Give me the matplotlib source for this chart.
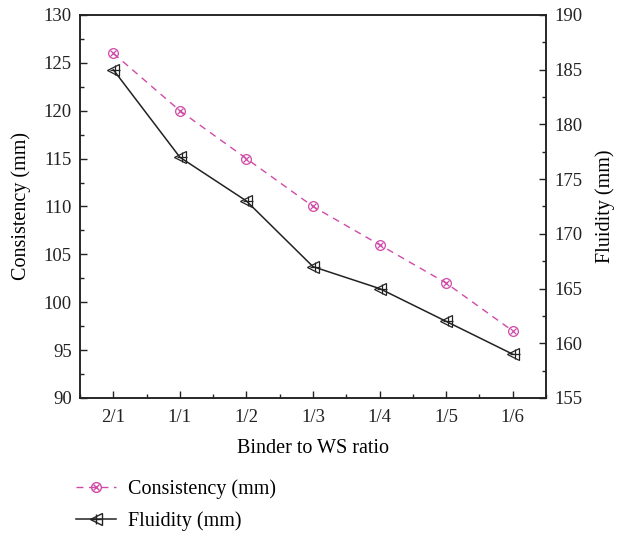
import numpy as np
import matplotlib.pyplot as plt
from matplotlib.ticker import MultipleLocator
from matplotlib.lines import Line2D

# Daten
ratios = ['2/1', '1/1', '1/2', '1/3', '1/4', '1/5', '1/6']
consistency = [126, 120, 115, 110, 106, 102, 97]
fluidity = [185, 177, 173, 167, 165, 162, 159]

plt.rcParams['font.family'] = ['Liberation Serif', 'DejaVu Serif']
plt.rcParams['font.size'] = 13

pink = '#d04aa8'
x = np.arange(len(ratios))

fig = plt.figure(figsize=(6.17, 5.33), dpi=100)
ax = fig.add_axes([0.1297, 0.2533, 0.7553, 0.7186])
ax2 = ax.twinx()

# Consistency (linke Achse)
ax.plot(x, consistency, color=pink, linestyle=(0, (5, 4)), linewidth=1,
        marker='o', markersize=7, markerfacecolor='none', markeredgecolor=pink,
        markeredgewidth=0.9, zorder=3)
ax.plot(x, consistency, linestyle='none', marker='x', markersize=5,
        markeredgecolor=pink, markeredgewidth=0.9, zorder=3)

# Fluidity (rechte Achse)
ax2.plot(x, fluidity, color='#222222', linewidth=1.1,
         marker='<', markersize=8.5, markerfacecolor='none', markeredgecolor='#222222',
         markeredgewidth=0.9)
ax2.plot(np.array(x) + 0.03, fluidity, linestyle='none', marker='+', markersize=7.5,
         markeredgecolor='#222222', markeredgewidth=0.9)

ax.set_xlim(-0.5, 6.5)
ax.set_ylim(90, 130)
ax2.set_ylim(155, 190)
ax.set_xticks(x)
ax.set_xticklabels(ratios)
ax.xaxis.set_minor_locator(MultipleLocator(0.5))
ax.yaxis.set_major_locator(MultipleLocator(5))
ax.yaxis.set_minor_locator(MultipleLocator(2.5))
ax2.yaxis.set_major_locator(MultipleLocator(5))
ax2.yaxis.set_minor_locator(MultipleLocator(2.5))

for a in (ax, ax2):
    a.tick_params(which='major', direction='in', length=5, width=1, labelsize=13.5, colors='#222222')
    a.tick_params(which='minor', direction='in', length=3, width=1, colors='#222222')
    for s in a.spines.values():
        s.set_linewidth(1.1)
        s.set_color('#222222')
ax.tick_params(axis='x', which='both', top=False, pad=8)
ax.tick_params(axis='y', which='both', right=False, pad=6)
ax2.tick_params(axis='y', which='both', left=False, pad=6)

ax.set_xlabel('Binder to WS ratio', fontsize=14.5, labelpad=9)
ax.set_ylabel('Consistency (mm)', fontsize=14.5, labelpad=9)
ax2.set_ylabel('Fluidity (mm)', fontsize=14.5, labelpad=9)

# Legende
h1 = (Line2D([], [], color=pink, linestyle=(0, (5, 4)), linewidth=1, marker='o',
             markersize=7, markerfacecolor='none', markeredgecolor=pink),
      Line2D([], [], linestyle='none', marker='x', markersize=5, markeredgecolor=pink))
h2 = (Line2D([], [], color='#222222', linewidth=1.1, marker='<', markersize=8.5,
             markerfacecolor='none', markeredgecolor='#222222'),
      Line2D([], [], linestyle='none', marker='+', markersize=7.5, markeredgecolor='#222222'))
fig.legend([h1, h2], ['Consistency (mm)', 'Fluidity (mm)'], loc='upper left',
           bbox_to_anchor=(0.11, 0.115), frameon=False, fontsize=14.5,
           handlelength=2.0, handletextpad=0.6, labelspacing=0.6, borderaxespad=0)

plt.savefig('out.png')
